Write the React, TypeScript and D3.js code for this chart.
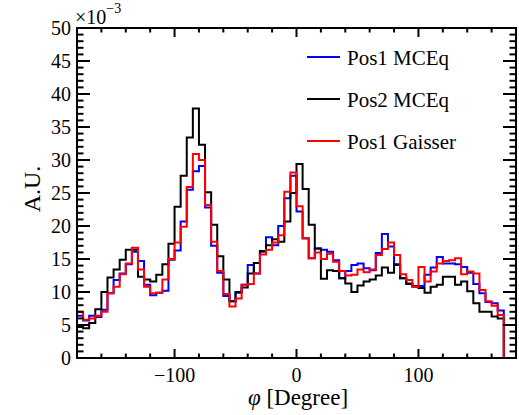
import * as d3 from "d3";
import React from "react";

// bin low edges in degrees, 5 degree bins from -180 to 180
const binEdges = d3.range(-180, 181, 5);

// values in units of 1e-3
const pos1MCEq = [
  6.4, 5.7, 6.4, 6.2, 7.3, 9.8, 11.8, 12.8, 14.2, 16.1,
  14.7, 11.1, 9.5, 9.9, 10.2, 14.9, 16.3, 20.7, 25.5, 28.3,
  29.1, 22.8, 17.0, 12.9, 9.4, 8.6, 9.9, 11.1, 14.1, 12.8,
  16.1, 18.3, 17.1, 20.0, 24.2, 27.6, 22.2, 18.1, 15.1, 16.6,
  16.4, 16.1, 14.8, 12.1, 13.2, 14.1, 14.3, 13.6, 13.3, 15.9,
  18.8, 16.9, 14.1, 12.1, 11.3, 10.8, 10.9, 12.6, 13.7, 15.3,
  14.3, 14.3, 14.2, 13.8, 12.9, 11.2, 9.8, 8.5, 8.3, 7.2,
  0, 0,
];

const pos2MCEq = [
  4.7, 4.5, 5.3, 7.4, 10.0, 12.2, 13.4, 14.9, 16.4, 16.4,
  12.3, 11.9, 11.6, 12.6, 14.2, 17.3, 22.9, 27.6, 33.4, 37.8,
  32.3, 25.1, 20.2, 15.4, 11.9, 8.6, 10.0, 10.7, 12.8, 14.4,
  16.2, 17.1, 18.0, 17.6, 20.7, 25.0, 29.4, 25.6, 20.2, 16.6,
  12.0, 13.3, 13.2, 12.1, 11.3, 10.0, 11.0, 11.6, 11.9, 12.5,
  13.7, 12.9, 14.2, 12.1, 11.2, 10.9, 10.6, 9.9, 10.8, 11.1,
  12.3, 12.3, 11.1, 11.6, 10.1, 8.3, 7.0, 7.0, 6.3, 6.0,
  0, 0,
];

const pos1Gaisser = [
  7.0, 5.8, 6.0, 6.4, 7.0, 9.8, 10.8, 12.7, 14.3, 16.7,
  13.4, 10.8, 9.8, 9.9, 11.9, 15.0, 17.5, 19.9, 25.9, 30.9,
  30.0, 23.2, 17.6, 13.2, 9.7, 7.8, 9.0, 11.1, 11.2, 12.8,
  15.7, 16.4, 17.5, 18.6, 25.2, 28.1, 23.0, 18.2, 15.1, 16.0,
  15.0, 15.8, 14.6, 13.2, 12.5, 12.6, 13.4, 13.0, 13.4, 15.6,
  16.5, 17.5, 15.6, 12.7, 11.8, 10.8, 13.8, 11.6, 13.1, 14.3,
  14.7, 14.8, 15.1, 12.7, 13.1, 12.8, 10.3, 8.6, 7.9, 6.5,
  0, 0,
];

const series = [
  { name: "Pos1 MCEq", color: "#0000ff", values: pos1MCEq },
  { name: "Pos2 MCEq", color: "#000000", values: pos2MCEq },
  { name: "Pos1 Gaisser", color: "#ff0000", values: pos1Gaisser },
];

const xMajor = [-100, 0, 100];
const xMinor = d3.range(-160, 161, 20);
const yMajor = d3.range(0, 51, 5);
const yMinor = d3.range(0, 51, 1);

const W = 519, H = 415;
const left = 77, right = 516, top = 28, bottom = 358;
const serif = { fontFamily: "Liberation Serif, DejaVu Serif, serif" };

export default function App() {
  const x = d3.scaleLinear().domain([-180, 180]).range([left, right]);
  const y = d3.scaleLinear().domain([0, 50]).range([bottom, top]);

  const histPath = (vals: number[]) => {
    const pts: [number, number][] = [[x(binEdges[0]), y(0)]];
    vals.forEach((v, i) => {
      pts.push([x(binEdges[i]), y(v)]);
      pts.push([x(binEdges[i + 1]), y(v)]);
    });
    pts.push([x(binEdges[binEdges.length - 1]), y(0)]);
    return d3.line()(pts) as string;
  };

  return (
    <div style={{ position: "absolute", left: 0, top: 0 }}>
      <svg width={W} height={H} style={{ display: "block", background: "#fff" }}>
        <rect x={0} y={0} width={W} height={H} fill="#fff" />

        {/* histograms */}
        <g fill="none" strokeWidth={2} strokeLinejoin="miter">
          {series.map((s) => (
            <path key={s.name} d={histPath(s.values)} stroke={s.color} />
          ))}
        </g>

        {/* frame */}
        <rect x={left} y={top} width={right - left} height={bottom - top}
          fill="none" stroke="#000" strokeWidth={2} />

        {/* ticks */}
        <g stroke="#000" strokeWidth={2}>
          {yMinor.map((v) => {
            const len = v % 5 === 0 ? 13 : 6.5;
            return (
              <g key={"y" + v}>
                <line x1={left} x2={left + len} y1={y(v)} y2={y(v)} />
                <line x1={right} x2={right - len} y1={y(v)} y2={y(v)} />
              </g>
            );
          })}
          {xMinor.map((v) => {
            const len = xMajor.includes(v) ? 9 : 4.5;
            return (
              <g key={"x" + v}>
                <line x1={x(v)} x2={x(v)} y1={bottom} y2={bottom - len} />
                <line x1={x(v)} x2={x(v)} y1={top} y2={top + len} />
              </g>
            );
          })}
        </g>

        {/* tick labels */}
        <g style={serif} fontSize={20} fill="#000">
          {yMajor.map((v) => (
            <text key={v} x={left - 6} y={y(v)} dy="0.35em" textAnchor="end">{v}</text>
          ))}
          {xMajor.map((v) => (
            <text key={v} x={x(v)} y={382} textAnchor="middle">
              {v < 0 ? "\u2212" + Math.abs(v) : v}
            </text>
          ))}
        </g>

        {/* exponent */}
        <text x={75} y={24} style={serif} fontSize={20}>
          ×10
          <tspan fontSize={14} dy={-11}>−3</tspan>
        </text>

        {/* axis titles */}
        <text style={serif} fontSize={24} textAnchor="middle"
          transform={`translate(40,${(top + bottom) / 2 - 4}) rotate(-90)`}>A.U.</text>
        <text style={serif} fontSize={23} textAnchor="middle" x={298} y={405}>
          <tspan fontStyle="italic">φ</tspan> [Degree]
        </text>

        {/* legend */}
        <g style={serif} fontSize={21}>
          {series.map((s, i) => {
            const ly = 57 + i * 42;
            return (
              <g key={s.name}>
                <line x1={307} x2={340} y1={ly} y2={ly} stroke={s.color} strokeWidth={2} />
                <text x={347} y={ly + 8}>{s.name}</text>
              </g>
            );
          })}
        </g>
      </svg>
    </div>
  );
}
